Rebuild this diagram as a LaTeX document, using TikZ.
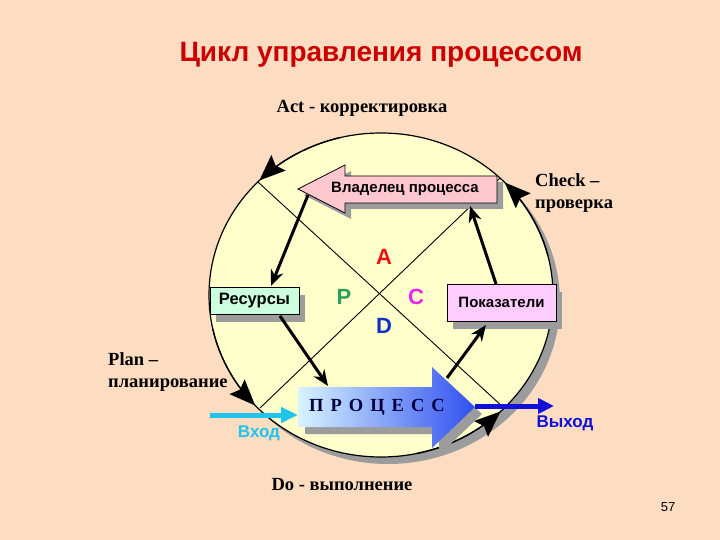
\documentclass[tikz,border=0pt]{standalone}
\usepackage{fontspec}
\setmainfont{Liberation Serif}
\setsansfont{Liberation Sans}
\usetikzlibrary{arrows.meta,shadows}
\definecolor{bg}{HTML}{FCDDC2}
\definecolor{circfill}{HTML}{FFFFCC}
\definecolor{shadowgray}{HTML}{9C9C9C}
\definecolor{titlered}{HTML}{CC0000}
\definecolor{resfill}{HTML}{CCFFDD}
\definecolor{pokfill}{HTML}{FFCCFF}
\definecolor{ownfill}{HTML}{FFC8D0}
\definecolor{procL}{HTML}{D8F4FF}
\definecolor{procR}{HTML}{3050F0}
\definecolor{inCyan}{HTML}{22C4EE}
\definecolor{outBlue}{HTML}{1010D8}
\definecolor{aRed}{HTML}{EE1111}
\definecolor{pGreen}{HTML}{2E9E5E}
\definecolor{cMag}{HTML}{EE22EE}
\definecolor{dBlue}{HTML}{1030C8}
\tikzset{
  pdca/.style={font=\bfseries\fontsize{18.5}{22}\selectfont, text=black, inner sep=0pt},
  boxnode/.style={draw=black, line width=0.8pt, font=\sffamily\bfseries\fontsize{15}{17}\selectfont, inner sep=0pt,
     drop shadow={shadow xshift=6pt, shadow yshift=-8pt, fill=shadowgray, opacity=1}},
  thinline/.style={line width=0.9pt, black},
  cyclearrow/.style={line width=1.3pt, black, -{Stealth[length=26pt,width=21pt,inset=4pt]}},
  thickarrow/.style={line width=3pt, black, -{Stealth[length=16pt,width=13pt]}},
  letter/.style={font=\sffamily\bfseries\fontsize{22}{24}\selectfont, inner sep=0pt},
}
\begin{document}
\begin{tikzpicture}[x=1pt,y=-1pt]
\fill[bg] (0,0) rectangle (720,540);
\useasboundingbox (0,0) rectangle (720,540);

\node[font=\sffamily\bfseries\fontsize{28}{32}\selectfont, text=titlered] (title) at (381,55) {Цикл управления процессом};

% circle
\fill[shadowgray] (388,302) ellipse [x radius=172pt, y radius=162pt];
\fill[circfill] (381,295) ellipse [x radius=172pt, y radius=162pt];
\draw[line width=1.2pt] (381,295) ellipse [x radius=172pt, y radius=162pt];

% diagonals
\coordinate (d1a) at (258,182);
\coordinate (d1b) at (504,408);
\coordinate (d2a) at (260,408);
\coordinate (d2b) at (500,178);
\draw[thinline] (d1a) -- (d1b);
\draw[thinline] (d2a) -- (d2b);

% cycle arrowheads
\draw[cyclearrow] plot[domain=256:225, samples=30] ({381+172*cos(\x)},{295+162*sin(\x)});
\draw[cyclearrow] plot[domain=346:316, samples=30] ({381+172*cos(\x)},{295+162*sin(\x)});
\draw[cyclearrow] plot[domain=168:137, samples=30] ({381+172*cos(\x)},{295+162*sin(\x)});
\draw[cyclearrow] plot[domain=78:46, samples=30] ({381+172*cos(\x)},{295+162*sin(\x)});

% owner arrow
\fill[shadowgray] (304,195) -- (351,171) -- (351,182) -- (503,182) -- (503,209) -- (351,209) -- (351,219) -- cycle;
\filldraw[fill=ownfill, draw=black, line width=0.8pt] (298,189) -- (345,165) -- (345,176) -- (497,176) -- (497,203) -- (345,203) -- (345,213) -- cycle;
\node[font=\sffamily\bfseries\fontsize{15}{17}\selectfont] (owner) at (405,189) {Владелец процесса};

% boxes
\node[boxnode, fill=resfill, minimum width=89pt, minimum height=27pt, font=\sffamily\bfseries\fontsize{16.5}{18}\selectfont] (res) at (254.5,300.5) {Ресурсы};
\node[boxnode, fill=pokfill, minimum width=109pt, minimum height=37pt] (pok) at (501.5,302.5) {Показатели};

% letters
\node[letter, text=aRed] (lA) at (384,257) {A};
\node[letter, text=pGreen] (lP) at (344,297) {P};
\node[letter, text=cMag] (lC) at (416,297) {C};
\node[letter, text=dBlue] (lD) at (384,326) {D};

% process arrow
\fill[shadowgray] (305,394) -- (439,394) -- (439,374) -- (482,414) -- (439,455) -- (439,434) -- (305,434) -- cycle;
\shade[left color=procL, right color=procR] (298,387) -- (432,387) -- (432,367) -- (475,407) -- (432,448) -- (432,427) -- (298,427) -- cycle;
\node[font=\bfseries\fontsize{18.5}{20}\selectfont\addfontfeature{LetterSpace=38}, text=black!75!blue] (proc) at (377,407) {ПРОЦЕСС};

% thick arrows
\coordinate (a1s) at (308,195); \coordinate (a1e) at (271,286);
\coordinate (a2s) at (280,316); \coordinate (a2e) at (328,386);
\coordinate (a3s) at (447,378); \coordinate (a3e) at (486,325);
\coordinate (a4s) at (496,284); \coordinate (a4e) at (470,206);
\draw[thickarrow] (a1s) -- (a1e);
\draw[thickarrow] (a2s) -- (a2e);
\draw[thickarrow] (a3s) -- (a3e);
\draw[thickarrow] (a4s) -- (a4e);

% input / output
\coordinate (inS) at (210,415); \coordinate (inE) at (298,415);
\coordinate (outS) at (475,406); \coordinate (outE) at (554,406);
\draw[line width=5pt, inCyan, -{Triangle[length=17pt,width=15pt]}] (inS) -- (inE);
\draw[line width=5pt, outBlue, -{Triangle[length=16pt,width=15pt]}] (outS) -- (outE);
\node[font=\sffamily\bfseries\fontsize{17}{19}\selectfont, text=inCyan] (vhod) at (259,433) {Вход};
\node[font=\sffamily\bfseries\fontsize{17}{19}\selectfont, text=outBlue] (vyhod) at (565,423) {Выход};

% PDCA labels
\node[pdca] (act) at (362,108) {Act - корректировка};
\node[pdca, align=left, anchor=west] (check) at (535,193) {Check –\\проверка};
\node[pdca, align=left, anchor=west] (plan) at (108,372) {Plan –\\планирование};
\node[pdca] (do) at (342,485) {Do - выполнение};

\node[font=\sffamily\fontsize{13}{15}\selectfont] (page) at (668,507) {57};
\end{tikzpicture}
\end{document}
